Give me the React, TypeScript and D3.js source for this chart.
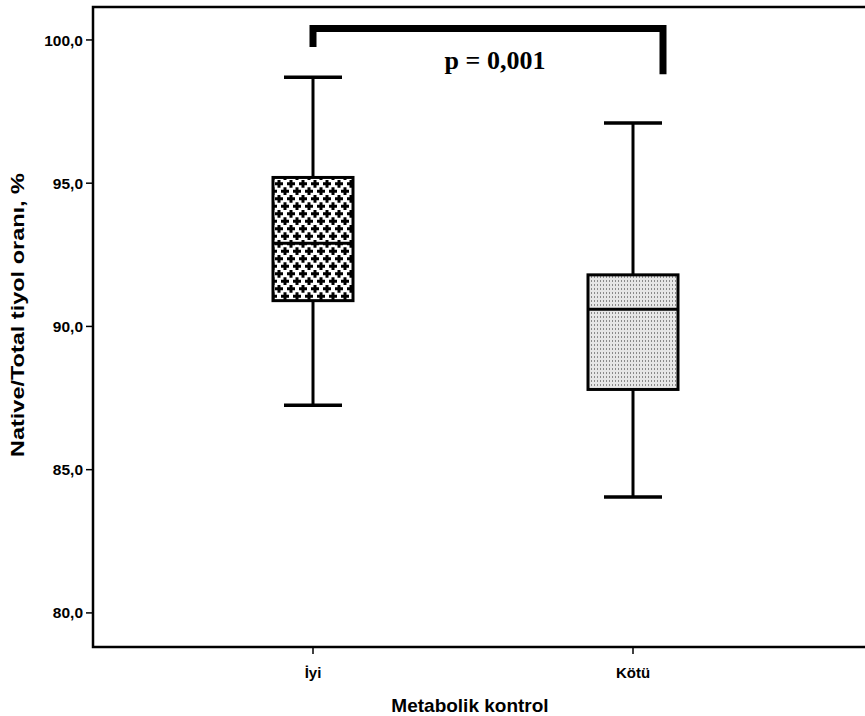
import * as d3 from "d3";

// ── Data ──────────────────────────────────────────────────
const groups = ["İyi", "Kötü"];
const whiskerLow  = [87.25, 84.05];
const q1          = [90.9, 87.8];
const medians     = [92.9, 90.6];
const q3          = [95.2, 91.8];
const whiskerHigh = [98.7, 97.1];
const yTicks = [80, 85, 90, 95, 100];
const pLabel = "p = 0,001";
// bracket: [left leg end, bar level, right leg end] in data units
const bracket = [99.75, 100.4, 98.8];

// ── Layout ────────────────────────────────────────────────
const W = 865;
const H = 716;
const LEFT = 93;
const TOP = 7;
const BOTTOM = 647;
const RIGHT = 880;
const BOX_W = [80, 90];
const CAP_W = 58;

const y = d3.scaleLinear().domain([78.81, 101.15]).range([BOTTOM, TOP]);
const x = d3.scalePoint<string>().domain(groups).range([313, 633]);

const fmt = (v: number) => d3.format(".1f")(v).replace(".", ",");
const sans = "'Liberation Sans', Arial, sans-serif";

export default function App() {
  return (
    <svg width={W} height={H} viewBox={`0 0 ${W} ${H}`}
      style={{ position: "absolute", left: 0, top: 0, background: "#fff" }}>
      <defs>
        <pattern id="cross" width={12} height={15} patternUnits="userSpaceOnUse">
          <rect width={12} height={15} fill="#fff" />
          {[[3, 3.75], [9, 11.25], [-3, 11.25], [15, 3.75]].map(([cx, cy], i) => (
            <g key={i}>
              <rect x={cx - 4} y={cy - 1.5} width={8} height={3} fill="#000" />
              <rect x={cx - 1.5} y={cy - 4} width={3} height={8} fill="#000" />
            </g>
          ))}
        </pattern>
        <pattern id="dots" width={3} height={4} patternUnits="userSpaceOnUse">
          <rect width={3} height={4} fill="#e6e6e6" />
          <rect x={0} y={0} width={1} height={2} fill="#8a8a8a" />
        </pattern>
      </defs>

      {/* frame */}
      <rect x={LEFT} y={TOP} width={RIGHT - LEFT} height={BOTTOM - TOP}
        fill="none" stroke="#000" strokeWidth={2.5} />

      {/* y axis ticks */}
      {yTicks.map(t => (
        <g key={t}>
          <line x1={LEFT - 7} x2={LEFT} y1={y(t)} y2={y(t)} stroke="#000" strokeWidth={1.5} />
          <text x={LEFT - 10} y={y(t)} dy="0.36em" textAnchor="end"
            fontFamily={sans} fontWeight={700} fontSize={15.5}>{fmt(t)}</text>
        </g>
      ))}

      {/* x axis ticks */}
      {groups.map(g => (
        <g key={g}>
          <line x1={x(g)} x2={x(g)} y1={BOTTOM} y2={BOTTOM + 7} stroke="#000" strokeWidth={1.5} />
          <text x={x(g)} y={678} textAnchor="middle"
            fontFamily={sans} fontWeight={700} fontSize={15}>{g}</text>
        </g>
      ))}

      {/* boxes */}
      {groups.map((g, i) => {
        const cx = x(g)!;
        const bw = BOX_W[i];
        return (
          <g key={g}>
            <line x1={cx} x2={cx} y1={y(whiskerHigh[i])} y2={y(q3[i])} stroke="#000" strokeWidth={3} />
            <line x1={cx} x2={cx} y1={y(q1[i])} y2={y(whiskerLow[i])} stroke="#000" strokeWidth={3} />
            <line x1={cx - CAP_W / 2} x2={cx + CAP_W / 2} y1={y(whiskerHigh[i])} y2={y(whiskerHigh[i])}
              stroke="#000" strokeWidth={3.5} />
            <line x1={cx - CAP_W / 2} x2={cx + CAP_W / 2} y1={y(whiskerLow[i])} y2={y(whiskerLow[i])}
              stroke="#000" strokeWidth={3.5} />
            <rect x={cx - bw / 2} y={y(q3[i])} width={bw} height={y(q1[i]) - y(q3[i])}
              fill={i === 0 ? "url(#cross)" : "url(#dots)"} stroke="#000" strokeWidth={3} />
            <line x1={cx - bw / 2} x2={cx + bw / 2} y1={y(medians[i])} y2={y(medians[i])}
              stroke="#000" strokeWidth={3} />
          </g>
        );
      })}

      {/* significance bracket */}
      <path
        d={`M${x(groups[0])},${y(bracket[0])}V${y(bracket[1])}H${x(groups[1])! + 30}V${y(bracket[2])}`}
        fill="none" stroke="#000" strokeWidth={7} strokeLinejoin="miter" />
      <text x={495} y={69} textAnchor="middle"
        fontFamily="'Liberation Serif', 'Times New Roman', serif" fontWeight={700} fontSize={26}>
        {pLabel}
      </text>

      {/* axis titles */}
      <text x={470} y={712} textAnchor="middle"
        fontFamily={sans} fontWeight={700} fontSize={19}>Metabolik kontrol</text>
      <text transform={`translate(24, 315) rotate(-90)`} textAnchor="middle"
        fontFamily={sans} fontWeight={700} fontSize={17.5} textLength={284} lengthAdjust="spacingAndGlyphs">Native/Total tiyol oranı, %</text>
    </svg>
  );
}
